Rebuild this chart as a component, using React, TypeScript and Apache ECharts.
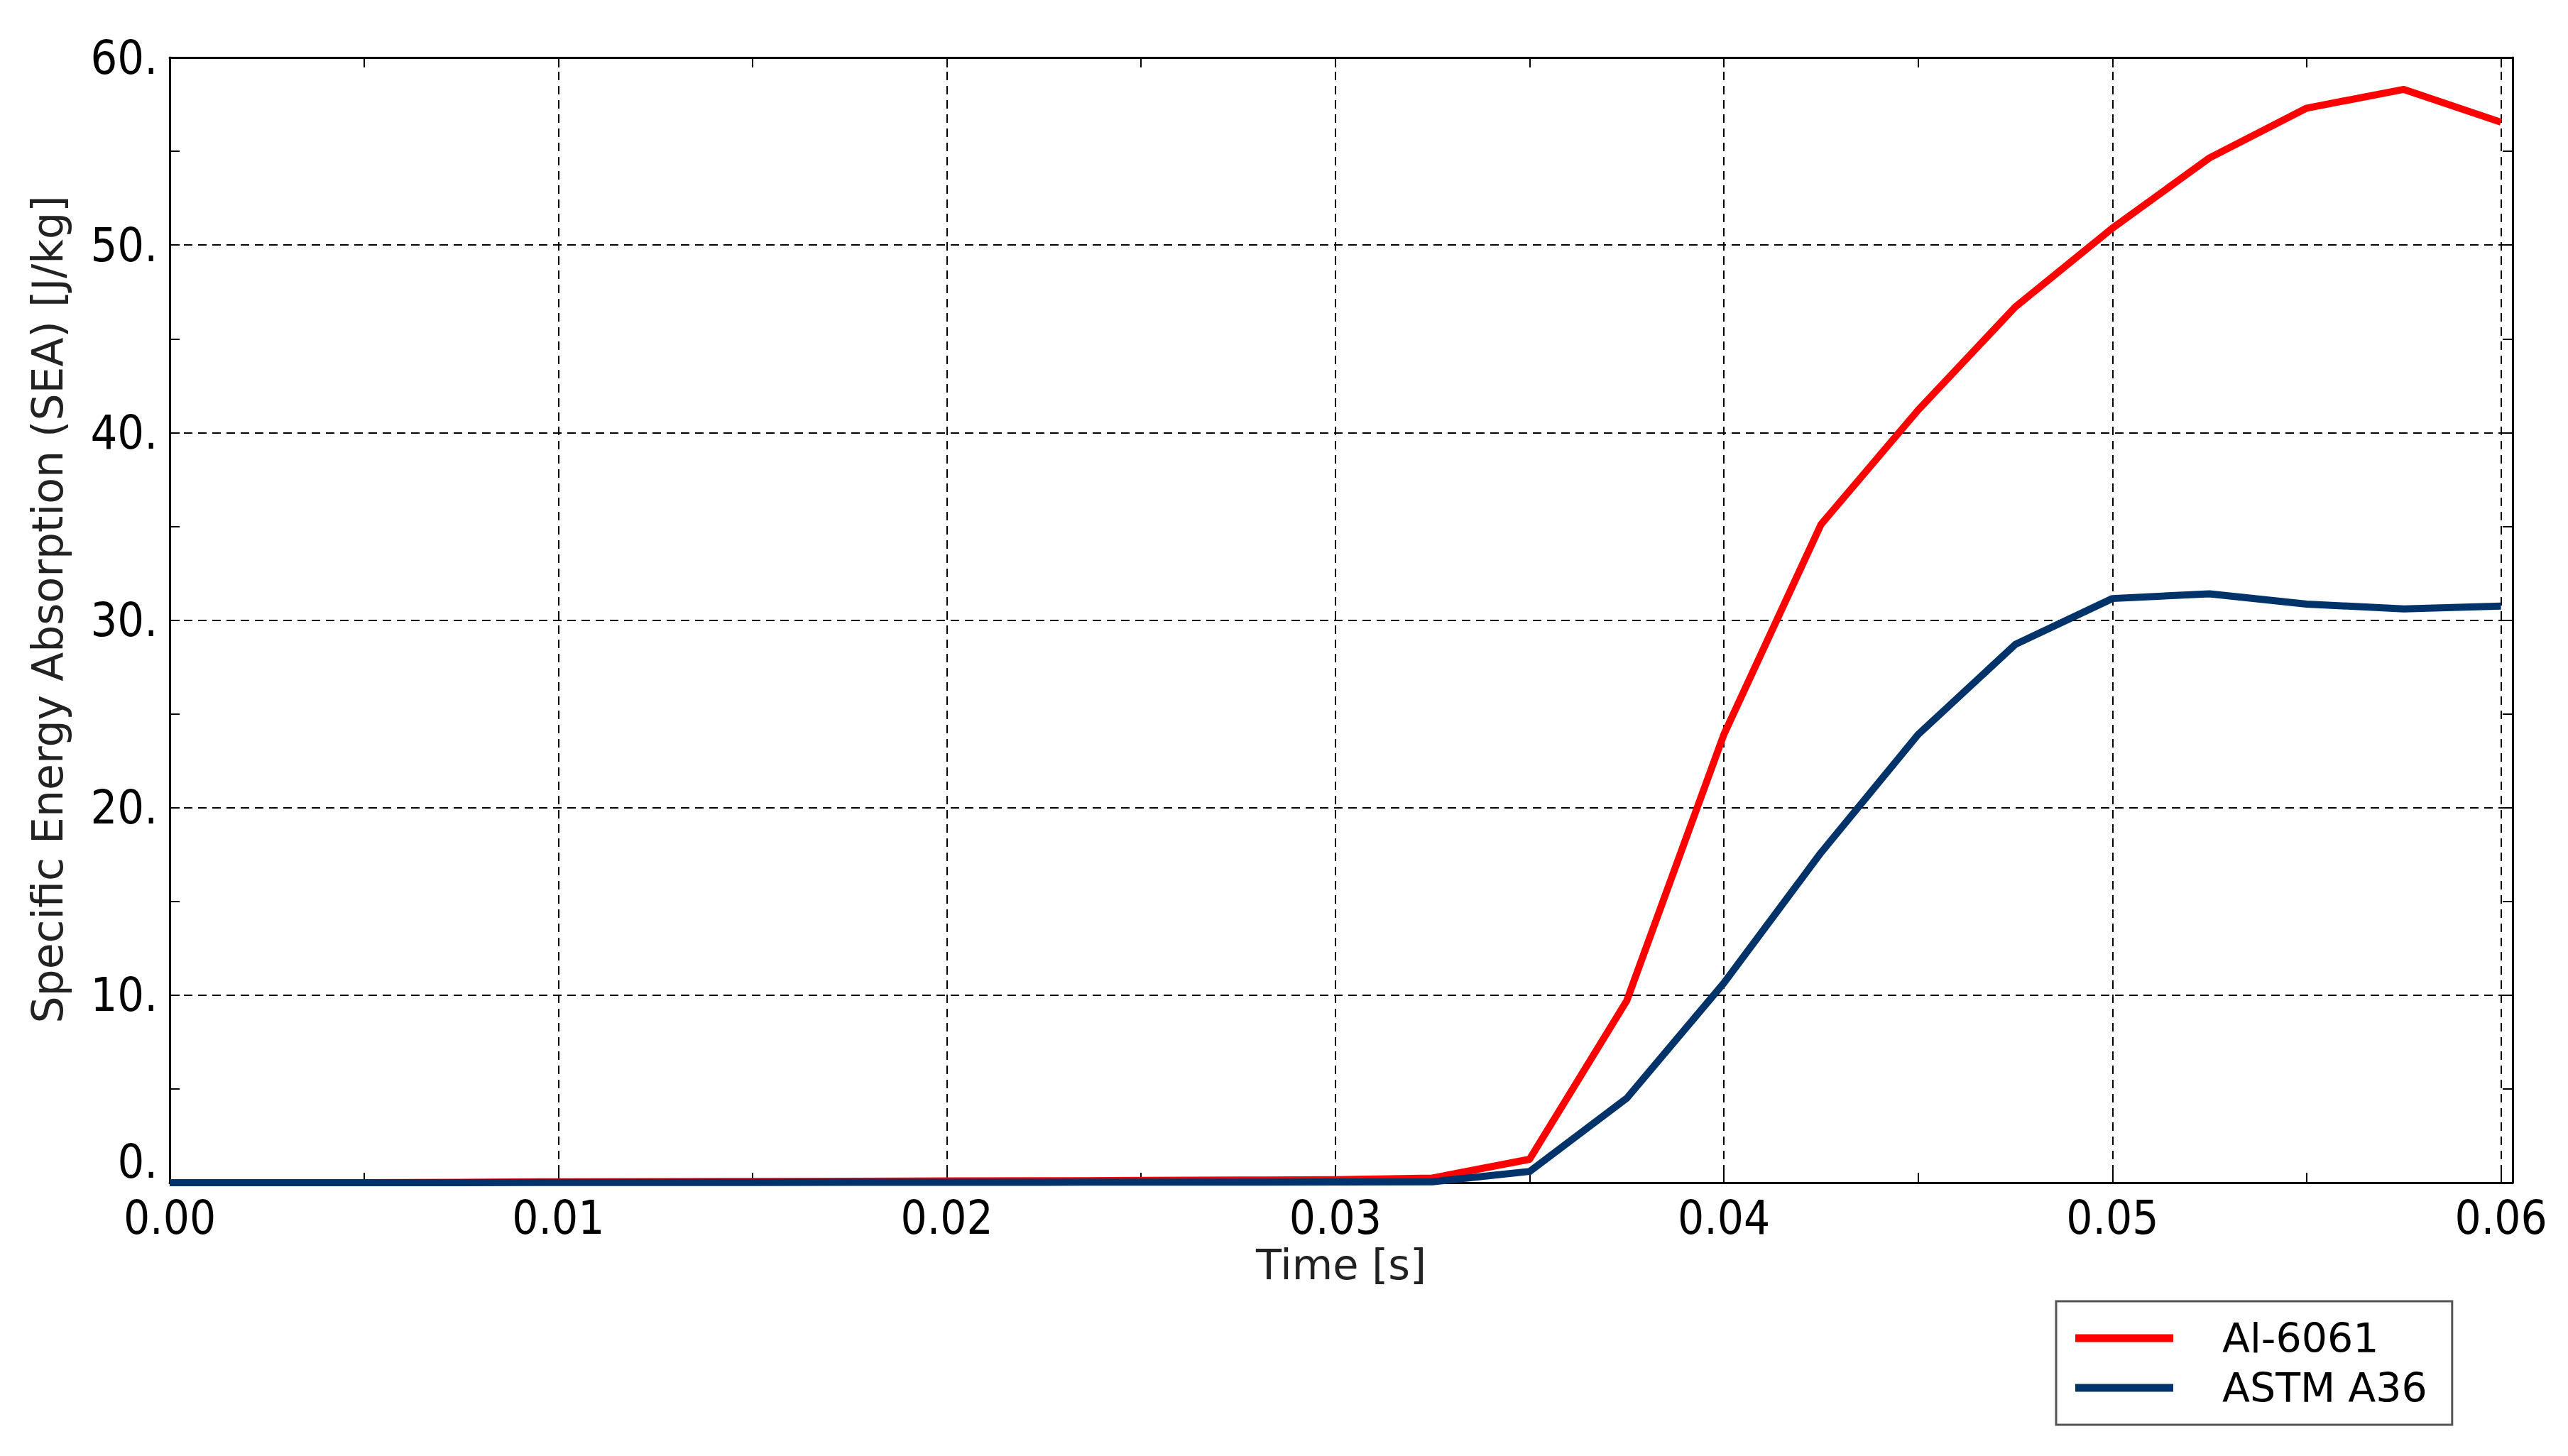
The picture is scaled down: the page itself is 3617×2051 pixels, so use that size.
import React, { useEffect, useRef } from 'react';
import * as echarts from 'echarts';

// sampled every 0.0025 s
const TIME = [
  0, 0.0025, 0.005, 0.0075, 0.01, 0.0125, 0.015, 0.0175, 0.02, 0.0225, 0.025, 0.0275, 0.03,
  0.0325, 0.035, 0.0375, 0.04, 0.0425, 0.045, 0.0475, 0.05, 0.0525, 0.055, 0.0575, 0.06,
];
const AL_6061 = [
  0, 0, 0, 0.02, 0.05, 0.06, 0.07, 0.08, 0.09, 0.1, 0.12, 0.14, 0.16,
  0.25, 1.25, 9.7, 23.9, 35.1, 41.2, 46.7, 50.9, 54.65, 57.3, 58.3, 56.55,
];
const ASTM_A36 = [
  0, 0, 0, 0, 0.01, 0.01, 0.01, 0.02, 0.02, 0.02, 0.03, 0.03, 0.04,
  0.05, 0.6, 4.5, 10.65, 17.6, 23.9, 28.7, 31.15, 31.4, 30.85, 30.6, 30.75,
];
const SERIES_NAMES = ['Al-6061', 'ASTM A36'];
const SERIES_COLORS = ['#ff0000', '#00336a'];

const X_MIN = 0;
const X_MAX = 0.0603;
const Y_MIN = 0;
const Y_MAX = 60;

const TICK_FONT = 'DejaVu Sans Condensed';
const TITLE_FONT = 'DejaVu Sans';

const frameLine = { onZero: false, lineStyle: { color: '#000', width: 3 } };
const innerTick = { show: true, inside: true, length: 14, lineStyle: { color: '#000', width: 2 } };
const gridDash = { show: true, lineStyle: { color: '#000', width: 2, type: [12, 8] } };
const tickLabel = { fontFamily: TICK_FONT, fontSize: 66, lineHeight: 58, color: '#000' };

function tickOnly(extra: object) {
  return {
    type: 'value',
    axisLine: { show: false, onZero: false },
    axisTick: innerTick,
    axisLabel: { show: false },
    splitLine: { show: false },
    ...extra,
  };
}

function buildOption(): echarts.EChartsOption {
  const xBase = { min: X_MIN, max: X_MAX };
  const yBase = { min: Y_MIN, max: Y_MAX };
  return {
    animation: false,
    backgroundColor: '#fff',
    grid: { left: 239, right: 78, top: 81, bottom: 385, containLabel: false },
    legend: {
      orient: 'vertical',
      left: 2896,
      top: 1833,
      padding: [17, 35, 17, 27],
      itemGap: 0,
      itemWidth: 138,
      itemHeight: 11,
      icon: 'rect',
      borderColor: '#555',
      borderWidth: 3,
      backgroundColor: '#fff',
      selectedMode: false,
      data: SERIES_NAMES,
      textStyle: {
        fontFamily: TITLE_FONT,
        fontSize: 57,
        color: '#000',
        lineHeight: 70,
        padding: [0, 0, 0, 64],
      },
    },
    xAxis: [
      {
        type: 'value',
        ...xBase,
        interval: 0.01,
        position: 'bottom',
        axisLine: frameLine,
        axisTick: innerTick,
        splitLine: gridDash,
        axisLabel: {
          ...tickLabel,
          fontSize: 65,
          margin: 20,
          formatter: (v: number) => {
            const k = v / 0.01;
            return Math.abs(k - Math.round(k)) < 1e-6 ? v.toFixed(2) : '';
          },
        },
        name: 'Time [s]',
        nameLocation: 'middle',
        nameGap: 86,
        nameTextStyle: { fontFamily: TITLE_FONT, fontSize: 59, color: '#222' },
      },
      tickOnly({ ...xBase, interval: 0.005, position: 'bottom' }),
      tickOnly({ ...xBase, interval: 0.005, position: 'top', axisLine: frameLine }),
    ] as any,
    yAxis: [
      {
        type: 'value',
        ...yBase,
        interval: 10,
        position: 'left',
        axisLine: frameLine,
        axisTick: innerTick,
        splitLine: gridDash,
        axisLabel: {
          ...tickLabel,
          margin: 17,
          // the 0 label sits above the axis in the reference, drawn separately below
          formatter: (v: number) => (v === 0 ? '' : `${v}.`),
        },
        name: 'Specific Energy Absorption (SEA) [J/kg]',
        nameLocation: 'middle',
        nameGap: 142,
        nameTextStyle: { fontFamily: TITLE_FONT, fontSize: 60, color: '#222', padding: [0, 0, 0, 30] },
      },
      tickOnly({ ...yBase, interval: 5, position: 'left' }),
      tickOnly({ ...yBase, interval: 5, position: 'right', axisLine: frameLine }),
    ] as any,
    series: [AL_6061, ASTM_A36].map((values, i) => ({
      name: SERIES_NAMES[i],
      type: 'line',
      xAxisIndex: 0,
      yAxisIndex: 0,
      data: TIME.map((t, j) => [t, values[j]]),
      showSymbol: false,
      symbol: 'none',
      clip: false,
      silent: true,
      color: SERIES_COLORS[i],
      lineStyle: { color: SERIES_COLORS[i], width: 10, join: 'round' },
      z: 3 + i,
    })) as any,
  };
}

export default function App() {
  const containerRef = useRef<HTMLDivElement | null>(null);

  useEffect(() => {
    document.body.style.margin = '0';
    if (!containerRef.current) {
      return undefined;
    }
    const chart = echarts.init(containerRef.current, undefined, { renderer: 'svg' });
    chart.setOption(buildOption());

    const [px, py] = chart.convertToPixel({ gridIndex: 0 }, [X_MIN, Y_MIN]) as number[];
    chart.setOption({
      graphic: [
        {
          type: 'text',
          x: px - 17,
          y: py - 30,
          silent: true,
          style: { ...tickLabel, text: `${Y_MIN}.`, align: 'right', verticalAlign: 'middle', fill: '#000' },
        },
      ],
    });

    return () => {
      chart.dispose();
    };
  }, []);

  return <div ref={containerRef} style={{ width: 3617, height: 2051 }} />;
}
